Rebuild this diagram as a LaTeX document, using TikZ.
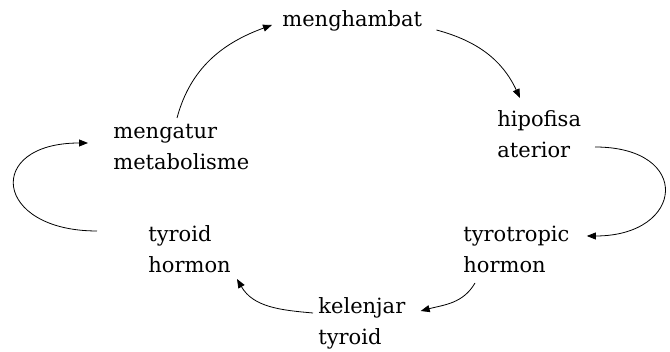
\documentclass[tikz,border=0pt]{standalone}
\usepackage{fontspec}
\setmainfont{DejaVu Serif}
\usetikzlibrary{arrows.meta}

\begin{document}
\begin{tikzpicture}[x=1pt,y=1pt,>={Triangle[length=9pt,width=7pt]},line width=0.8pt,
  lbl/.style={align=left,inner sep=0pt,anchor=base west,font=\fontsize{21}{31}\selectfont}]
  \useasboundingbox (0,0) rectangle (670,352);
  \node[lbl] (hambat) at (282,325.5) {menghambat};
  \node[lbl] (hipo) at (497,194) {hipofisa\\aterior};
  \node[lbl] (tsh) at (463,79) {tyrotropic\\hormon};
  \node[lbl] (kel) at (318,7) {kelenjar\\tyroid};
  \node[lbl] (th) at (148,79) {tyroid\\hormon};
  \node[lbl] (meta) at (113,182) {mengatur\\metabolisme};
  \draw[->] ([shift={(64,52)}]meta.base west) to[out=75,in=200] ([shift={(-10,1.5)}]hambat.base west);
  \draw[->] ([shift={(14,-3.5)}]hambat.base east) to[out=-15,in=115] ([shift={(23,60)}]hipo.base west);
  \draw[->] ([shift={(98,11)}]hipo.base west) to[out=0,in=0,looseness=2.8] ([shift={(17,37)}]tsh.base east);
  \draw[->] ([shift={(12,-10)}]tsh.base west) to[out=-120,in=15] ([shift={(15,34)}]kel.base east);
  \draw[->] ([shift={(-5,32)}]kel.base west) to[out=175,in=-60] ([shift={(89,-6)}]th.base west);
  \draw[->] ([shift={(-51,42)}]th.base west) to[out=180,in=180,looseness=3] ([shift={(-25,27)}]meta.base west);
\end{tikzpicture}
\end{document}
